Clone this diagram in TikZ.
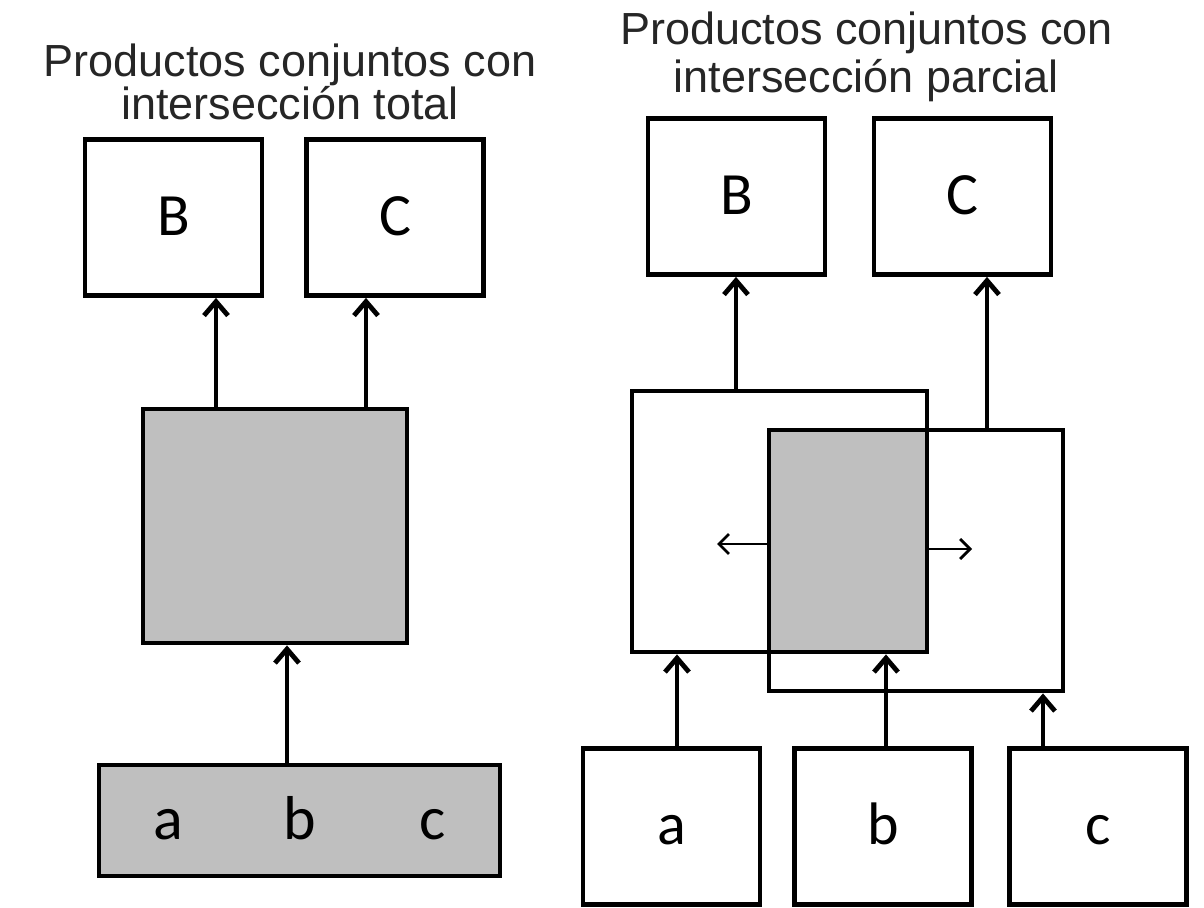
\documentclass[tikz,border=0pt]{standalone}
\usepackage{fontspec}
\setmainfont{Liberation Sans}
\newfontfamily\boxfont{Carlito}
\usetikzlibrary{arrows.meta,backgrounds}
\definecolor{boxgray}{RGB}{191,191,191}
\definecolor{titlegray}{RGB}{38,38,38}
\tikzset{
	>={Straight Barb[length=7pt,width=12pt]},
	box/.style={draw,line width=2.4pt,inner sep=0pt,minimum width=88.5pt,minimum height=78pt,
		font=\boxfont\fontsize{30}{30}\selectfont,text height=18pt,text depth=0pt},
	bigbox/.style={draw,line width=2.4pt,inner sep=0pt},
	letter/.style={inner sep=0pt,font=\boxfont\fontsize{31}{31}\selectfont,text height=18.6pt,text depth=0pt},
	arr/.style={line width=2.4pt,->},
	thinarr/.style={line width=1.4pt,-{Straight Barb[length=5pt,width=10pt]}},
	title/.style={font=\fontsize{22.5}{24}\selectfont,text=titlegray,align=center}
}
\begin{document}
\begin{tikzpicture}[x=0.5pt,y=-0.5pt]
	\useasboundingbox (0,0) rectangle (1204,908);
	% interseccion total
	\node[title] (tl) at (290,81.5) {Productos conjuntos con\\[-2.5pt]intersección total};
	\node[box] (B1) at (173.5,217.5) {B};
	\node[box] (C1) at (395,217.5) {C};
	\node[bigbox,fill=boxgray,minimum width=132pt,minimum height=117pt] (T) at (275,526) {};
	\node[bigbox,fill=boxgray,minimum width=200.5pt,minimum height=55.5pt] (abc) at (299.5,820.5) {};
	\foreach \l/\x in {a/168,b/300,c/433} {\node[letter] (abc-\l) at (\x,820.5) {\l};}
	\coordinate (xB1) at (216,0);
	\coordinate (xC1) at (366,0);
	\coordinate (xT) at (287,0);
	\draw[arr] (xB1 |- T.north) -- (xB1 |- B1.south);
	\draw[arr] (xC1 |- T.north) -- (xC1 |- C1.south);
	\draw[arr] (xT |- abc.north) -- (xT |- T.south);
	% interseccion parcial
	\node[title] (tr) at (866.5,57) {Productos conjuntos con\\intersección parcial};
	\node[box] (B2) at (736.5,196.5) {B};
	\node[box] (C2) at (962.5,196.5) {C};
	\node[bigbox,minimum width=147.5pt,minimum height=130.5pt] (P1) at (779.5,521.5) {};
	\node[bigbox,minimum width=147pt,minimum height=130.5pt] (P2) at (916,560.5) {};
	\begin{scope}[on background layer]
		\fill[boxgray] (P2.north west) rectangle (P1.south east);
	\end{scope}
	\node[box] (a) at (671.5,826.5) {a};
	\node[box] (b) at (883,826.5) {b};
	\node[box] (c) at (1098,826.5) {c};
	\coordinate (xB2) at (736,0);
	\coordinate (xC2) at (987,0);
	\coordinate (xa) at (677,0);
	\coordinate (xb) at (886,0);
	\coordinate (xc) at (1043,0);
	\draw[arr] (xB2 |- P1.north) -- (xB2 |- B2.south);
	\draw[arr] (xC2 |- P2.north) -- (xC2 |- C2.south);
	\draw[arr] (xa |- a.north) -- (xa |- P1.south);
	\draw[arr] (xb |- b.north) -- (xb |- P1.south);
	\draw[arr] (xc |- c.north) -- (xc |- P2.south);
	\coordinate (pl) at (717,544);
	\coordinate (pr) at (972,549);
	\draw[thinarr] (pl -| P2.west) -- (pl);
	\draw[thinarr] (pr -| P1.east) -- (pr);
\end{tikzpicture}
\end{document}
